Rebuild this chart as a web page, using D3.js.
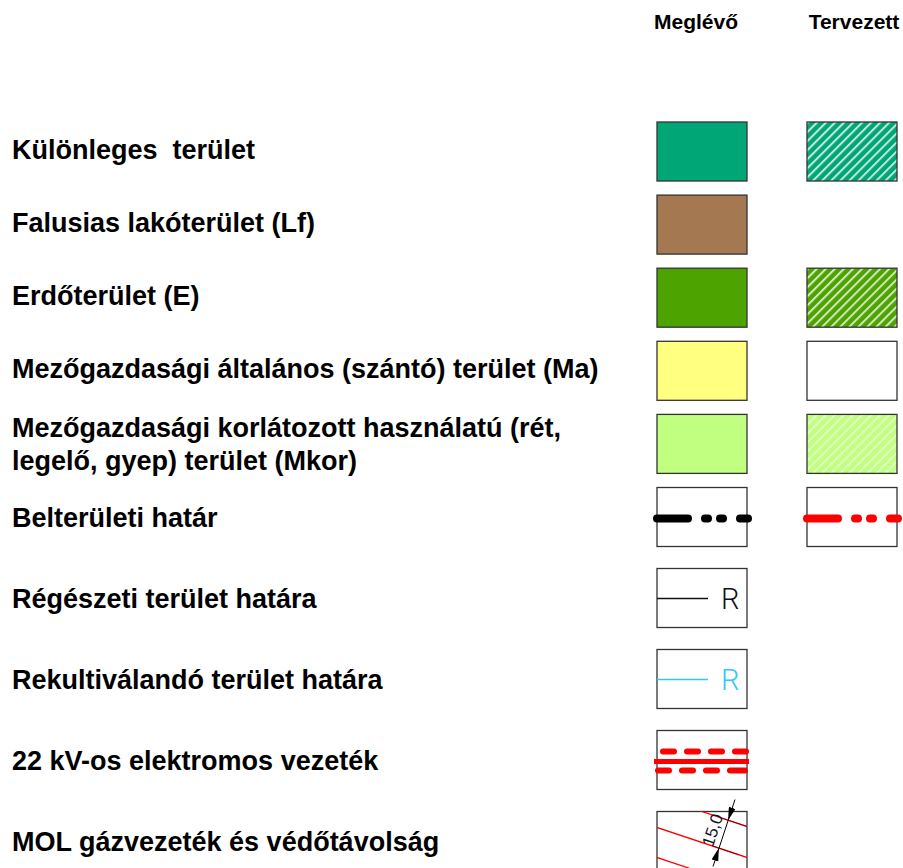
<!DOCTYPE html>
<html>
<head>
<meta charset="utf-8">
<script src="https://cdn.jsdelivr.net/npm/d3@7"></script>
<style>
    body { margin: 0; background: #fff; }
    svg { display: block; }
    .lbl { font-family: "Liberation Sans", Arial, sans-serif; font-weight: bold; font-size: 27px; fill: #000; white-space: pre; }
    .hdr { font-family: "Liberation Sans", Arial, sans-serif; font-weight: bold; font-size: 21px; fill: #000; }
    .rmark { font-family: Roboto, "Noto Sans", sans-serif; font-weight: 300; font-size: 29px; }
</style>
</head>
<body>
<svg id="legend" width="903" height="868"></svg>
<script>
const columns = ['Meglévő', 'Tervezett'];
const labels = [
    ['Különleges  terület'],
    ['Falusias lakóterület (Lf)'],
    ['Erdőterület (E)'],
    ['Mezőgazdasági általános (szántó) terület (Ma)'],
    ['Mezőgazdasági korlátozott használatú (rét,', 'legelő, gyep) terület (Mkor)'],
    ['Belterületi határ'],
    ['Régészeti terület határa'],
    ['Rekultiválandó terület határa'],
    ['22 kV-os elektromos vezeték'],
    ['MOL gázvezeték és védőtávolság']
];
// symbol shown in each column ('' = nothing)
const existing = ['kul', 'lf', 'erdo', 'ma', 'mkor', 'belter', 'reg', 'rekult', 'kv22', 'mol'];
const planned = ['kul', '', 'erdo', 'ma', 'mkor', 'belter', '', '', '', ''];
const areaKeys = ['kul', 'lf', 'erdo', 'ma', 'mkor'];
const areaColors = ['#00a676', '#a47850', '#4da300', '#ffff80', '#c0ff80'];
const molDistance = '15,0';

const svg = d3.select('svg#legend');
const boxW = 90, boxH = 59;

const fill = d3.scaleOrdinal().domain(areaKeys).range(areaColors);
// rows are evenly spaced in two blocks
const yScale = d3.scaleLinear().domain([0, 5, 9]).range([151.5, 517, 841]);
const xScale = d3.scalePoint().domain(columns).range([702, 852]);

// hatch for planned areas
const defs = svg.append('defs');
defs.append('pattern')
    .attr('id', 'hatch')
    .attr('patternUnits', 'userSpaceOnUse')
    .attr('width', 6.4).attr('height', 6.4)
    .attr('patternTransform', 'rotate(45)')
    .append('rect')
    .attr('x', 0).attr('y', 0)
    .attr('width', 2).attr('height', 6.4)
    .attr('fill', '#fff').attr('fill-opacity', 0.75);

defs.append('clipPath').attr('id', 'molclip')
    .append('rect').attr('width', boxW).attr('height', boxH + 6);

defs.append('marker')
    .attr('id', 'arrow')
    .attr('viewBox', '0 0 13 7')
    .attr('refX', 13).attr('refY', 3.5)
    .attr('markerUnits', 'userSpaceOnUse')
    .attr('markerWidth', 13).attr('markerHeight', 7)
    .attr('orient', 'auto')
    .append('path').attr('d', 'M0,0 L13,3.5 L0,7 Z').attr('fill', '#000');

// headers
const hdrShift = { 'Meglévő': -6, 'Tervezett': 2 };
svg.selectAll('text.hdr')
    .data(columns)
    .enter()
    .append('text')
    .attr('class', 'hdr')
    .attr('x', d => xScale(d) + hdrShift[d])
    .attr('y', 29)
    .attr('text-anchor', 'middle')
    .text(d => d);

// labels
labels.forEach((lines, i) => {
    const base = yScale(i) + (i < 4 ? 7 : 10);
    const t = svg.append('text')
        .attr('class', 'lbl')
        .attr('x', 12)
        .attr('y', base - (lines.length - 1) * 16.5);
    lines.forEach((s, k) => {
        t.append('tspan')
            .attr('x', 12)
            .attr('dy', k === 0 ? 0 : 33)
            .text(s);
    });
});

const boxStroke = '#333';

const drawSymbol = (g, kind, col) => {
    const isPlan = col === 'Tervezett';
    if (areaKeys.includes(kind)) {
        const c = (isPlan && kind === 'ma') ? '#fff' : fill(kind);
        g.append('rect').attr('width', boxW).attr('height', boxH).attr('fill', c);
        if (isPlan && kind !== 'ma') {
            g.append('rect').attr('width', boxW).attr('height', boxH).attr('fill', 'url(#hatch)')
                .attr('opacity', kind === 'mkor' ? 0.7 : 1);
        }
        g.append('rect').attr('width', boxW).attr('height', boxH)
            .attr('fill', 'none').attr('stroke', boxStroke).attr('stroke-width', 1.3);
        return;
    }
    if (kind === 'mol') {
        g.append('rect').attr('width', boxW).attr('height', boxH + 6)
            .attr('fill', '#fff').attr('stroke', boxStroke).attr('stroke-width', 1.3);
        const lines = g.append('g').attr('clip-path', 'url(#molclip)');
        [-15, 16, 46].forEach(y0 => {
            lines.append('line')
                .attr('x1', -2).attr('y1', y0 - 2 / 3)
                .attr('x2', boxW + 2).attr('y2', y0 + (boxW + 2) / 3)
                .attr('stroke', '#f00').attr('stroke-width', 1.2);
        });
        // dimension line, perpendicular to the pipe
        const p1 = [71.1, 8.7], p2 = [61.8, 36.6];
        g.append('line')
            .attr('x1', 78).attr('y1', -12).attr('x2', 56).attr('y2', 55)
            .attr('stroke', '#000').attr('stroke-width', 1);
        g.append('line')
            .attr('x1', 77).attr('y1', -9).attr('x2', p1[0]).attr('y2', p1[1])
            .attr('stroke', 'none').attr('marker-end', 'url(#arrow)');
        g.append('line')
            .attr('x1', 57).attr('y1', 52).attr('x2', p2[0]).attr('y2', p2[1])
            .attr('stroke', 'none').attr('marker-end', 'url(#arrow)');
        [p1, p2].forEach(p => {
            const xe = Math.min(boxW, p[0] + 20);
            g.append('line')
                .attr('x1', p[0] - 6).attr('y1', p[1] - 2)
                .attr('x2', xe).attr('y2', p[1] + (xe - p[0]) / 3)
                .attr('stroke', '#400').attr('stroke-width', 1).attr('opacity', 0.6);
        });
        g.append('text')
            .attr('transform', 'translate(61,20.5) rotate(-71.57)')
            .attr('text-anchor', 'middle')
            .attr('font-family', '"Liberation Sans", Arial, sans-serif')
            .attr('font-size', 17)
            .attr('fill', '#112')
            .text(molDistance);
        return;
    }
    g.append('rect').attr('width', boxW).attr('height', boxH)
        .attr('fill', '#fff').attr('stroke', boxStroke).attr('stroke-width', 1.3);
    if (kind === 'belter') {
        g.append('line')
            .attr('x1', 0).attr('y1', 31).attr('x2', 91).attr('y2', 31)
            .attr('stroke', isPlan ? '#f00' : '#000')
            .attr('stroke-width', 8)
            .attr('stroke-linecap', 'round')
            .attr('stroke-dasharray', '31 17 3 12 3 17 8');
    } else if (kind === 'reg' || kind === 'rekult') {
        const c = kind === 'reg' ? '#111' : '#2ec7ff';
        g.append('line')
            .attr('x1', 0).attr('y1', 30).attr('x2', 51).attr('y2', 30)
            .attr('stroke', c).attr('stroke-width', 1.3);
        g.append('text')
            .attr('class', 'rmark')
            .attr('x', 64).attr('y', 40.5)
            .attr('fill', c)
            .text('R');
    } else if (kind === 'kv22') {
        const red = '#f00';
        g.append('line')
            .attr('x1', 6).attr('y1', 21).attr('x2', 89).attr('y2', 21)
            .attr('stroke', red).attr('stroke-width', 6)
            .attr('stroke-linecap', 'round').attr('stroke-dasharray', '11 13');
        g.append('line')
            .attr('x1', -3).attr('y1', 31).attr('x2', 92).attr('y2', 31)
            .attr('stroke', red).attr('stroke-width', 5);
        g.append('line')
            .attr('x1', 1).attr('y1', 40).attr('x2', 88).attr('y2', 40)
            .attr('stroke', red).attr('stroke-width', 6)
            .attr('stroke-linecap', 'round').attr('stroke-dasharray', '11 13 11 13 11 13 15 20');
    }
};

columns.forEach((col, ci) => {
    const kinds = ci === 0 ? existing : planned;
    kinds.forEach((kind, i) => {
        if (!kind) return;
        const g = svg.append('g')
            .attr('transform', `translate(${xScale(col) - boxW / 2}, ${yScale(i) - boxH / 2})`);
        drawSymbol(g, kind, col);
    });
});
</script>
</body>
</html>
